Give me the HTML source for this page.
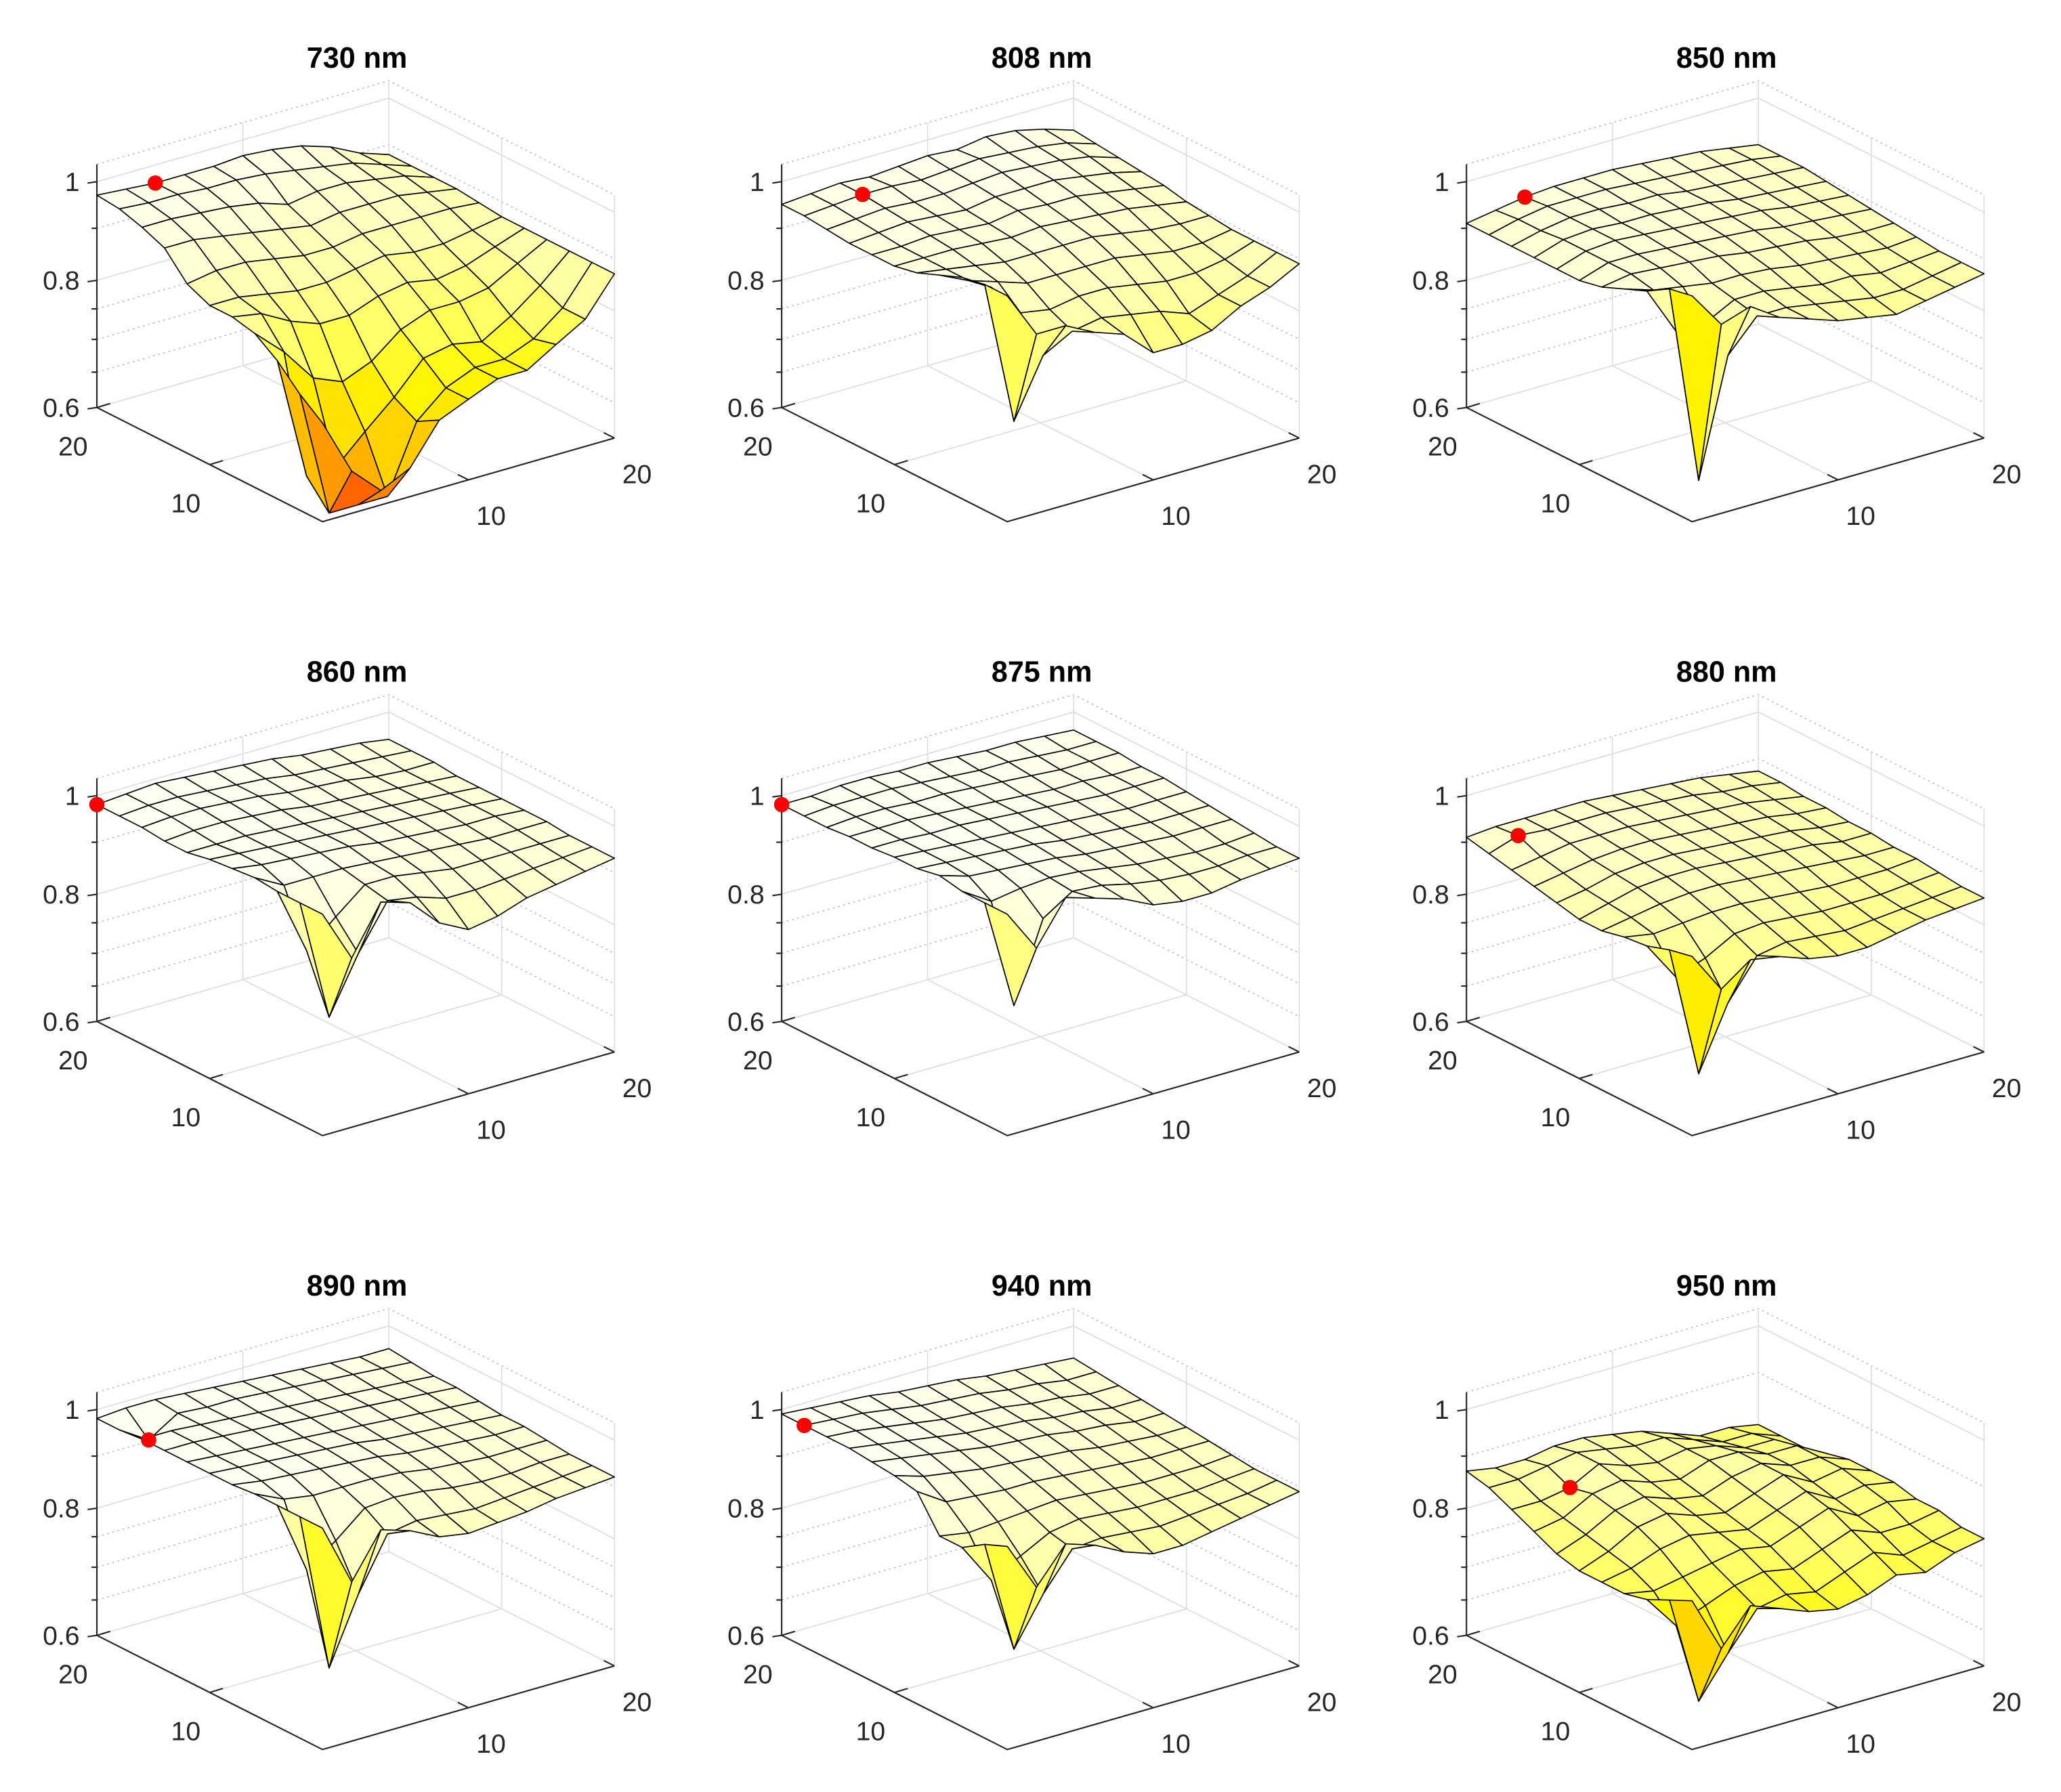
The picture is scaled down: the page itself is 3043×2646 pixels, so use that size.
<!DOCTYPE html>
<html><head><meta charset="utf-8"><title>Surface plots</title>
<style>html,body{margin:0;padding:0;background:#fff}svg{display:block}</style></head>
<body>
<svg id="fig" xmlns="http://www.w3.org/2000/svg" width="3043" height="2646" viewBox="0 0 1553 1350" preserveAspectRatio="none" font-family="Liberation Sans, Arial, sans-serif"></svg>
<script>
const titles = ["730 nm","808 nm","850 nm","860 nm","875 nm","880 nm","890 nm","940 nm","950 nm"];
const zTickValues = [0.6, 0.8, 1];
const zTickLabels = ["0.6","0.8","1"];
const zMinorTicks = [0.65, 0.7, 0.75, 0.9];
const xyTickValues = [10, 20];
const xyTickLabels = ["10","20"];
// rows: v index 0 (front) .. 10 (left edge); columns: u index 0 (front) .. 10 (right)
const Z730 = [
[.75,.66,.62,.64,.70,.72,.74,.74,.77,.80,.87],
[.78,.55,.52,.58,.68,.72,.74,.74,.76,.80,.87],
[.82,.62,.62,.66,.70,.75,.76,.75,.78,.82,.87],
[.85,.80,.74,.72,.74,.78,.80,.80,.81,.84,.87],
[.86,.85,.82,.80,.80,.82,.83,.82,.83,.85,.87],
[.86,.86,.85,.84,.84,.85,.86,.85,.85,.86,.87],
[.88,.89,.89,.88,.87,.87,.88,.88,.88,.88,.875],
[.93,.93,.92,.91,.90,.89,.90,.90,.90,.89,.88],
[.95,.95,.945,.94,.93,.91,.92,.92,.91,.90,.88],
[.965,.96,.96,.955,.955,.95,.94,.93,.92,.90,.88],
[.97,.965,.96,.96,.96,.965,.96,.95,.93,.90,.88]];
const Z808 = [
[1.0,.90,.90,.87,.85,.80,.80,.81,.84,.86,.89],
[1.0,.72,.82,.85,.86,.85,.84,.82,.84,.86,.89],
[.99,.95,.88,.87,.88,.88,.87,.86,.86,.87,.89],
[.97,.94,.92,.90,.90,.90,.90,.89,.88,.88,.89],
[.95,.94,.93,.92,.92,.92,.92,.91,.90,.895,.895],
[.94,.94,.94,.935,.93,.935,.93,.925,.92,.91,.90],
[.94,.94,.945,.94,.935,.945,.94,.94,.93,.92,.91],
[.94,.945,.95,.945,.94,.95,.95,.95,.94,.93,.915],
[.945,.95,.955,.95,.95,.955,.96,.955,.95,.94,.92],
[.95,.955,.96,.96,.955,.96,.965,.96,.955,.945,.925],
[.95,.955,.96,.955,.96,.965,.96,.97,.965,.95,.93]];
const Z850 = [
[1.0,.92,.94,.90,.88,.86,.85,.84,.85,.86,.87],
[.99,.63,.82,.88,.88,.87,.86,.85,.85,.86,.87],
[.96,.86,.86,.89,.89,.88,.87,.87,.86,.865,.87],
[.94,.92,.91,.90,.90,.895,.885,.88,.875,.87,.875],
[.92,.93,.925,.92,.915,.905,.90,.895,.885,.88,.88],
[.91,.93,.93,.925,.92,.915,.91,.90,.895,.89,.885],
[.91,.93,.935,.93,.925,.92,.915,.91,.90,.895,.89],
[.91,.93,.935,.93,.93,.925,.92,.91,.905,.90,.895],
[.91,.925,.935,.935,.93,.93,.92,.915,.91,.905,.90],
[.91,.925,.935,.935,.935,.93,.925,.92,.915,.91,.90],
[.91,.92,.93,.935,.935,.935,.93,.925,.92,.91,.90]];
const Z860 = [
[.99,.88,.98,.96,.90,.87,.88,.90,.91,.92,.93],
[.99,.75,.85,.94,.93,.91,.91,.915,.92,.925,.93],
[.99,.85,.90,.95,.95,.94,.93,.93,.93,.93,.93],
[.995,.96,.96,.96,.955,.95,.945,.94,.935,.935,.935],
[.99,.98,.975,.97,.965,.955,.95,.945,.94,.94,.935],
[.985,.98,.975,.97,.965,.96,.955,.95,.945,.94,.935],
[.975,.975,.975,.97,.965,.96,.955,.95,.945,.94,.935],
[.975,.98,.98,.975,.97,.96,.955,.95,.945,.94,.935],
[.98,.985,.985,.98,.975,.965,.96,.955,.945,.94,.94],
[.98,.985,.985,.98,.975,.97,.96,.955,.95,.945,.94],
[.98,.985,.99,.985,.98,.975,.97,.96,.955,.95,.94]];
const Z875 = [
[.99,.90,.99,.97,.95,.92,.91,.91,.92,.925,.93],
[.99,.77,.92,.96,.955,.94,.93,.925,.925,.93,.93],
[.99,.95,.96,.965,.96,.95,.94,.935,.93,.93,.935],
[1.0,.98,.975,.97,.965,.955,.95,.945,.94,.94,.94],
[.99,.985,.98,.975,.97,.96,.955,.95,.945,.945,.945],
[.99,.985,.98,.975,.97,.965,.96,.955,.95,.95,.95],
[.985,.985,.98,.98,.975,.97,.965,.96,.955,.955,.955],
[.985,.985,.985,.98,.975,.97,.965,.96,.96,.955,.955],
[.98,.985,.985,.98,.98,.975,.97,.965,.96,.96,.96],
[.98,.985,.985,.985,.98,.975,.97,.97,.965,.96,.96],
[.98,.98,.985,.985,.98,.98,.975,.97,.97,.965,.96]];
const Z880 = [
[.90,.82,.86,.85,.83,.82,.82,.83,.84,.845,.85],
[.89,.66,.76,.83,.84,.835,.83,.835,.84,.845,.85],
[.875,.80,.82,.85,.855,.85,.845,.845,.845,.85,.855],
[.87,.86,.865,.87,.87,.865,.86,.855,.855,.855,.86],
[.86,.87,.88,.885,.885,.88,.875,.87,.865,.86,.86],
[.86,.875,.89,.895,.895,.89,.885,.88,.875,.865,.865],
[.87,.88,.895,.90,.90,.895,.89,.885,.88,.87,.865],
[.88,.89,.90,.905,.905,.90,.895,.89,.885,.875,.87],
[.89,.90,.91,.91,.91,.905,.90,.895,.89,.88,.87],
[.90,.92,.915,.915,.915,.91,.905,.90,.89,.885,.875],
[.91,.915,.915,.915,.915,.91,.905,.90,.895,.885,.875]];
const Z890 = [
[.99,.86,.95,.93,.90,.89,.895,.90,.91,.915,.92],
[.99,.69,.80,.90,.91,.905,.90,.905,.91,.915,.92],
[.99,.84,.88,.93,.935,.93,.92,.915,.915,.92,.92],
[.99,.96,.95,.95,.95,.945,.935,.93,.925,.925,.925],
[.985,.975,.97,.965,.96,.955,.945,.94,.935,.93,.93],
[.985,.98,.975,.97,.965,.96,.95,.945,.94,.935,.93],
[.985,.98,.975,.97,.965,.96,.955,.95,.945,.94,.935],
[.985,.985,.98,.975,.97,.965,.96,.955,.95,.945,.94],
[.985,.985,.98,.975,.97,.965,.96,.955,.95,.945,.94],
[.98,.94,.98,.975,.975,.97,.965,.96,.955,.95,.945],
[.98,.985,.985,.98,.975,.97,.965,.96,.955,.95,.95]];
const Z940 = [
[.95,.85,.92,.90,.87,.85,.85,.86,.87,.88,.89],
[.93,.72,.80,.87,.875,.87,.865,.87,.875,.88,.89],
[.90,.82,.85,.88,.89,.885,.88,.88,.88,.885,.89],
[.90,.89,.895,.90,.905,.90,.895,.89,.89,.89,.895],
[.97,.93,.925,.92,.92,.915,.91,.905,.90,.90,.90],
[.98,.96,.95,.94,.935,.93,.925,.915,.91,.905,.905],
[.985,.975,.965,.955,.945,.94,.935,.925,.92,.91,.91],
[.99,.98,.97,.96,.95,.945,.94,.93,.925,.915,.915],
[.99,.985,.975,.965,.955,.95,.945,.935,.93,.92,.92],
[.99,.985,.98,.97,.96,.955,.95,.94,.935,.925,.925],
[.99,.985,.98,.975,.965,.96,.955,.945,.94,.935,.93]];
const Z950 = [
[.84,.74,.80,.78,.76,.75,.76,.78,.77,.79,.80],
[.82,.64,.70,.76,.77,.76,.78,.80,.78,.79,.80],
[.80,.74,.76,.78,.79,.78,.80,.82,.80,.80,.81],
[.79,.78,.79,.80,.81,.80,.82,.84,.81,.82,.81],
[.79,.80,.82,.83,.82,.81,.83,.85,.82,.83,.82],
[.79,.81,.84,.85,.83,.82,.84,.86,.83,.84,.82],
[.80,.82,.85,.86,.84,.83,.85,.86,.84,.84,.82],
[.82,.83,.86,.87,.85,.84,.86,.86,.84,.84,.81],
[.84,.84,.85,.88,.86,.85,.86,.85,.83,.83,.80],
[.86,.86,.87,.88,.87,.86,.86,.84,.82,.82,.80],
[.87,.86,.86,.87,.87,.86,.85,.83,.81,.81,.80]];
const surfaces = [Z730, Z808, Z850, Z860, Z875, Z880, Z890, Z940, Z950];
// marker grid location [u index, v index]
const markerU = [2, 2, 2, 0, 0, 1, 1, 0, 2];
const markerV = [10, 9, 10, 10, 10, 9, 9, 9, 8];

const NS = "http://www.w3.org/2000/svg";
const svg = document.getElementById("fig");
const PL = {x:73,y:307}, PF = {x:243,y:393}, PR = {x:463,y:330}, PB = {x:293,y:244};
const ZMIN = 0.6, ZTOP = 1.04, KZ = 333, XMAX = 20;
function mk(tag, attrs, parent){
  const e = document.createElementNS(NS, tag);
  for (const k in attrs) e.setAttribute(k, attrs[k]);
  parent.appendChild(e);
  return e;
}
function zScale(z){ return KZ*Math.log(Math.max(z,0.585)/ZMIN); }
function proj(u, v, z){
  return {x: PF.x + u*(PR.x-PF.x) + v*(PL.x-PF.x),
          y: PF.y + u*(PR.y-PF.y) + v*(PL.y-PF.y) - zScale(z)};
}
const stops = [[0.55,[255,100,0]],[0.62,[255,170,0]],[0.68,[255,210,0]],[0.74,[255,248,0]],[0.80,[255,255,100]],[0.86,[255,255,165]],[0.92,[255,255,208]],[0.97,[255,255,238]],[1.0,[255,255,246]]];
function color(z){
  if (z<=stops[0][0]) return "rgb("+stops[0][1].join(",")+")";
  for (let i=1;i<stops.length;i++){
    if (z<=stops[i][0]){
      const t=(z-stops[i-1][0])/(stops[i][0]-stops[i-1][0]);
      const c=stops[i-1][1].map((a,k)=>Math.round(a+(stops[i][1][k]-a)*t));
      return "rgb("+c.join(",")+")";
    }
  }
  return "rgb("+stops[stops.length-1][1].join(",")+")";
}
function pts(a){ return a.map(p=>p.x.toFixed(2)+","+p.y.toFixed(2)).join(" "); }

titles.forEach((title, idx) => {
  const col = idx % 3, row = Math.floor(idx/3);
  const g = mk("g", {transform:"translate("+(col*516)+","+(row*462.5)+")"}, svg);
  
  

  const grid = mk("g", {}, g);
  
  
  const wallLines = (z, dotted) => {
    const a = proj(0,1,z), b = proj(1,1,z), c = proj(1,0,z);
    const pl = mk("polyline", {points: pts([a,b,c]), fill:"none", stroke: dotted?"#bdbdbd":"#dedede", "stroke-width": dotted?0.8:0.9, "stroke-dasharray": dotted?"1.5 2.5":"none"}, grid);
    
    
  };
  zTickValues.forEach(z => wallLines(z, false));
  zMinorTicks.forEach(z => wallLines(z, true));
  wallLines(ZTOP, true);
  [[0,1],[1,1],[1,0]].forEach(c => {
    const a = proj(c[0],c[1],ZMIN), b = proj(c[0],c[1],ZTOP);
    const l = mk("line", {x1:a.x,y1:a.y,x2:b.x,y2:b.y,stroke:"#dedede","stroke-width":0.9}, grid);
    
    
  });
  xyTickValues.forEach(t => {
    if (t >= XMAX) return;
    const f = t/XMAX;
    const segs = [[proj(f,1,ZMIN),proj(f,1,ZTOP)],[proj(1,f,ZMIN),proj(1,f,ZTOP)],[proj(f,0,ZMIN),proj(f,1,ZMIN)],[proj(0,f,ZMIN),proj(1,f,ZMIN)]];
    segs.forEach(s => {
      const l = mk("line", {x1:s[0].x,y1:s[0].y,x2:s[1].x,y2:s[1].y,stroke:"#dedede","stroke-width":0.9}, grid);
      
      
    });
  });

  const axes = mk("g", {stroke:"#262626","stroke-width":1.1,fill:"none"}, g);
  
  
  const zb = proj(0,1,ZMIN), zt = proj(0,1,ZTOP);
  const zl = mk("line", {x1:zb.x,y1:zb.y,x2:zt.x,y2:zt.y}, axes);
  
  
  const fl = mk("polyline", {points: pts([proj(0,1,ZMIN),proj(0,0,ZMIN),proj(1,0,ZMIN)])}, axes);
  
  
  zTickValues.forEach((z,i) => {
    const p = proj(0,1,z);
    const t = mk("line", {x1:p.x-7,y1:p.y+1,x2:p.x,y2:p.y}, axes);
    
    
    const tx = mk("text", {x:p.x-13,y:p.y+7,"text-anchor":"end","font-size":20,fill:"#262626",stroke:"none"}, g);
    tx.textContent = zTickLabels[i];
    
    
  });
  zMinorTicks.forEach(z => {
    const p = proj(0,1,z);
    const t = mk("line", {x1:p.x-4,y1:p.y,x2:p.x,y2:p.y}, axes);
    
    
  });
  xyTickValues.forEach((tv,i) => {
    const f = tv/XMAX;
    const a = proj(0,f,ZMIN);
    const t1 = mk("line", {x1:a.x,y1:a.y,x2:a.x+10,y2:a.y-3}, axes);
    
    
    const l1 = mk("text", {x:a.x-18,y:a.y+36,"text-anchor":"middle","font-size":20,fill:"#262626",stroke:"none"}, g);
    l1.textContent = xyTickLabels[i];
    
    
    const b = proj(f,0,ZMIN);
    const t2 = mk("line", {x1:b.x,y1:b.y,x2:b.x-8,y2:b.y-4}, axes);
    
    
    const l2 = mk("text", {x:b.x+17,y:b.y+34,"text-anchor":"middle","font-size":20,fill:"#262626",stroke:"none"}, g);
    l2.textContent = xyTickLabels[i];
    
    
  });

  const Z = surfaces[idx];
  const nv = Z.length, nu = Z[0].length;
  const surf = mk("g", {stroke:"#000","stroke-width":0.85,"stroke-linejoin":"round"}, g);
  
  
  const faces = [];
  for (let i=0;i<nv-1;i++) for (let j=0;j<nu-1;j++) faces.push([i,j]);
  faces.sort((a,b) => (b[0]+b[1]) - (a[0]+a[1]));
  faces.forEach(([i,j]) => {
    const c = [[i,j],[i,j+1],[i+1,j+1],[i+1,j]];
    const P = c.map(([vi,uj]) => proj(uj/(nu-1), vi/(nv-1), Z[vi][uj]));
    const zs = c.map(([vi,uj]) => Z[vi][uj]);
    const zc = 0.6*Z[i+1][j+1] + 0.4*(zs[0]+zs[1]+zs[2]+zs[3])/4;
    const f = mk("polygon", {points: pts(P), fill: color(zc)}, surf);
    
    
  });

  const mu = markerU[idx], mv = markerV[idx];
  const mp = proj(mu/(nu-1), mv/(nv-1), Z[mv][mu]);
  const m = mk("circle", {cx:mp.x, cy:mp.y, r:5.5, fill:"#ff0000", stroke:"#e00000","stroke-width":0.5}, g);
  
  

  const tt = mk("text", {x:269,y:51,"text-anchor":"middle","font-size":22,"font-weight":"bold",fill:"#000"}, g);
  tt.textContent = title;
  
  
});
</script>
</body></html>
